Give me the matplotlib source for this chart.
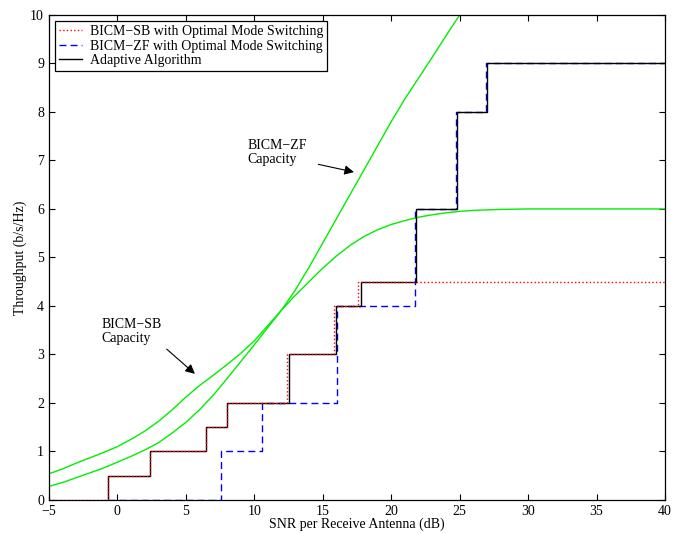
import numpy as np
import matplotlib
matplotlib.use('Agg')
import matplotlib.pyplot as plt

plt.rcParams['font.family'] = ['Liberation Serif', 'DejaVu Serif']
plt.rcParams['font.size'] = 10

# step curves: switching SNR (dB) and throughput level held from that point on
sb_x = [-5, -0.7, 2.4, 6.5, 8.0, 12.4, 15.8, 17.6, 40]
sb_y = [0, 0.5, 1, 1.5, 2, 3, 4, 4.5, 4.5]

zf_x = [-0.7, 7.55, 10.55, 16.05, 21.75, 24.7, 26.9, 40]
zf_y = [0, 1, 2, 4, 6, 8, 9, 9]

ad_x = [-0.7, -0.7, 2.4, 6.5, 8.0, 12.5, 16.0, 17.8, 21.8, 24.8, 27.0, 40]
ad_y = [0, 0.5, 1, 1.5, 2, 3, 4, 4.5, 6, 8, 9, 9]

# capacity curves
cap_sb_x = [-5, -4, -3, -2, -1, 0, 1, 2, 3, 4, 5, 6, 7, 8, 9, 10, 11, 12, 13, 14,
            15, 16, 17, 18, 19, 20, 21, 22, 23, 24, 25, 26, 28, 30, 40]
cap_sb_y = [0.54, 0.64, 0.76, 0.87, 0.98, 1.1, 1.25, 1.42, 1.62, 1.86, 2.12, 2.36,
            2.57, 2.79, 3.02, 3.28, 3.6, 3.92, 4.22, 4.5, 4.78, 5.03, 5.25, 5.43,
            5.57, 5.68, 5.76, 5.83, 5.88, 5.92, 5.95, 5.97, 5.99, 6.0, 6.0]

cap_zf_x = [-5, -4, -3, -2, -1, 0, 1, 2, 3, 4, 5, 6, 7, 8, 9, 10, 11, 12, 13, 14,
            15, 16, 17, 18, 19, 20, 21, 22, 23, 24, 25]
cap_zf_y = [0.28, 0.36, 0.46, 0.56, 0.66, 0.78, 0.9, 1.03, 1.18, 1.38, 1.6, 1.86,
            2.16, 2.5, 2.85, 3.2, 3.56, 3.92, 4.33, 4.8, 5.3, 5.8, 6.3, 6.8, 7.3,
            7.8, 8.27, 8.7, 9.13, 9.57, 10.0]

fig = plt.figure(figsize=(6.8, 5.33), dpi=100)
ax = fig.add_axes([0.072, 0.062, 0.906, 0.910])

ax.step(sb_x, sb_y, where='post', color='r', ls=':', lw=1.0, zorder=4,
        label='BICM\u2212SB with Optimal Mode Switching')
ax.step(zf_x, zf_y, where='post', color='b', ls=(0, (5, 3)), lw=1.0, zorder=2,
        label='BICM\u2212ZF with Optimal Mode Switching')
ax.step(ad_x, ad_y, where='post', color='k', lw=1.0, zorder=3,
        label='Adaptive Algorithm')

ax.plot(cap_sb_x, cap_sb_y, color='#00ee00', lw=1.0, zorder=2.5)
ax.plot(cap_zf_x, cap_zf_y, color='#00ee00', lw=1.0, zorder=2.5)

arrow = dict(arrowstyle='-|>', color='k', lw=0.8, mutation_scale=14,
             shrinkA=0, shrinkB=0)
ax.text(9.5, 7.45, 'BICM\u2212ZF\nCapacity', va='top', ha='left', linespacing=1.1)
ax.annotate('', xy=(17.28, 6.76), xytext=(14.67, 6.92), arrowprops=arrow)
ax.text(-1.15, 3.75, 'BICM\u2212SB\nCapacity', va='top', ha='left', linespacing=1.1)
ax.annotate('', xy=(5.66, 2.6), xytext=(3.6, 3.11), arrowprops=arrow)

ax.set_xlim(-5, 40)
ax.set_ylim(0, 10)
ax.set_xticks(np.arange(-5, 41, 5))
ax.set_yticks(np.arange(0, 11, 1))
ax.tick_params(direction='in', top=True, right=True, length=4, width=0.8)
for s in ax.spines.values():
    s.set_linewidth(0.9)

ax.set_xlabel('SNR per Receive Antenna (dB)', labelpad=0)
ax.set_ylabel('Throughput (b/s/Hz)', labelpad=2)

leg = ax.legend(loc='upper left', fancybox=False, edgecolor='k', framealpha=1,
                borderaxespad=0.45, borderpad=0.3, labelspacing=0.1,
                handlelength=1.6, handletextpad=0.6)
leg.get_frame().set_linewidth(0.9)

fig.savefig('out.png', dpi=100)
